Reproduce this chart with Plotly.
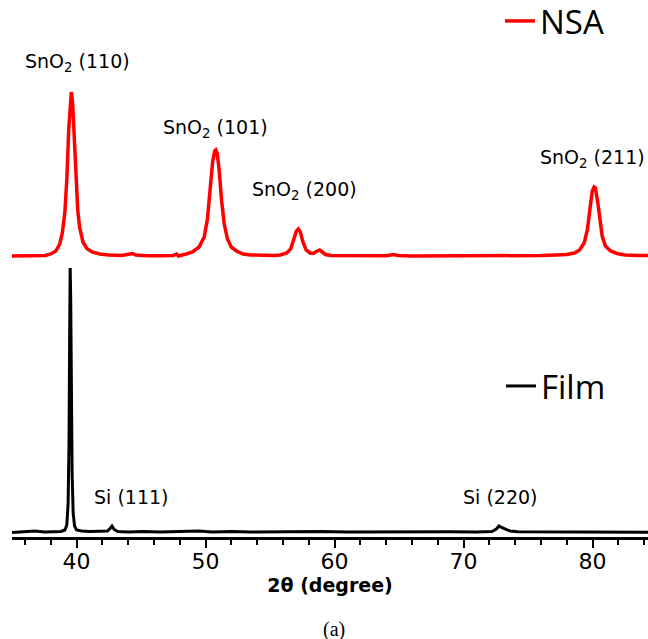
import plotly.graph_objects as go

# XRD patterns: 2-theta (degree) vs intensity (a.u.)
nsa_2theta = [35.0, 36.0, 37.0, 37.6, 38.0, 38.4, 38.7, 38.9, 39.1, 39.25, 39.4, 39.52, 39.6, 39.7,
              39.82, 39.95, 40.1, 40.25, 40.5, 40.8, 41.2, 41.8, 42.5, 43.5, 44.1, 44.35, 44.6, 45.5,
              46.5, 47.5, 47.75, 47.9, 48.5, 49.0, 49.5, 49.9, 50.15, 50.35, 50.55, 50.72, 50.8, 50.9,
              51.05, 51.25, 51.45, 51.7, 52.0, 52.4, 52.9, 53.5, 54.5, 55.3, 55.8, 56.3, 56.6, 56.85,
              57.05, 57.2, 57.35, 57.55, 57.8, 58.1, 58.35, 58.6, 58.85, 59.05, 59.3, 59.7, 61.0, 62.5,
              64.0, 64.6, 64.9, 66.0, 68.0, 70.0, 72.0, 74.0, 76.0, 77.2, 78.0, 78.6, 79.0, 79.35,
              79.6, 79.8, 79.98, 80.12, 80.22, 80.38, 80.55, 80.75, 81.0, 81.4, 81.9, 82.5, 83.5, 84.3]
nsa_intensity = [1.0, 1.2, 1.0, 1.5, 3, 6, 13, 24, 45, 78, 128, 160, 165, 154,
                 115, 75, 46, 29, 15, 8.5, 5, 3, 2, 1.5, 2.5, 3.5, 2, 1.2,
                 1.2, 1.5, 3, 1.0, 3, 5, 10, 20, 38, 64, 95, 106, 107, 104,
                 88, 56, 33, 18, 10, 6, 3, 2, 1.5, 1.5, 2, 4, 8, 17,
                 26, 28, 25, 15, 7, 4, 3.5, 5.5, 7, 5, 2.5, 1.5, 1.2, 1.0,
                 1.2, 2.5, 1.5, 1.0, 1.0, 1.2, 1.0, 1.2, 1.5, 2, 2.5, 4, 7, 14,
                 27, 48, 66, 70, 69, 57, 37, 21, 11, 6, 3.5, 2, 1.5, 1.5]

film_2theta = [35.0, 35.8, 36.8, 37.5, 38.3, 38.8, 39.1, 39.25, 39.35, 39.42, 39.47, 39.51, 39.55,
               39.6, 39.66, 39.74, 39.85, 40.0, 40.4, 41.0, 41.8, 42.4, 42.6, 42.75, 42.92, 43.2,
               44.0, 45.2, 46.5, 48.0, 49.5, 50.5, 52.0, 53.5, 55.0, 57.0, 59.0, 61.0, 63.0, 65.0,
               67.0, 69.0, 71.0, 72.2, 72.55, 72.75, 72.95, 73.25, 73.6, 74.2, 76.0, 78.0, 80.0,
               82.0, 84.3]
film_intensity = [0.5, 1.0, 2.0, 1.0, 1.5, 1.5, 3, 8, 30, 90, 200, 265, 235,
                  150, 60, 20, 7, 3, 2, 1.5, 1.5, 2, 4.5, 7, 3.5, 1.5,
                  1.0, 1.5, 1.0, 1.2, 2.0, 1.0, 1.5, 1.0, 1.2, 1.0, 1.5, 1.0, 1.2, 1.0,
                  1.0, 1.2, 1.0, 1.5, 4, 7, 5.5, 3.5, 2, 1.2, 1.0, 0.8, 1.0,
                  0.8, 0.8]

# Reflection labels: text, 2-theta, height above its pattern's baseline
nsa_peak_labels = ["SnO<sub>2</sub> (110)", "SnO<sub>2</sub> (101)",
                   "SnO<sub>2</sub> (200)", "SnO<sub>2</sub> (211)"]
nsa_peak_x = [40.1, 50.78, 57.65, 80.0]
nsa_peak_y = [195, 129, 67, 99]
film_peak_labels = ["Si (111)", "Si (220)"]
film_peak_x = [44.2, 72.8]
film_peak_y = [36, 36]

NSA_OFFSET = 276  # vertical stacking of the NSA pattern above the film pattern

fig = go.Figure()
fig.add_trace(go.Scatter(
    x=film_2theta, y=film_intensity, mode="lines", name="Film",
    line=dict(color="black", width=3), legend="legend2"))
fig.add_trace(go.Scatter(
    x=nsa_2theta, y=[v + NSA_OFFSET for v in nsa_intensity], mode="lines", name="NSA",
    line=dict(color="#ff0000", width=3.5), legend="legend"))

label_font = dict(family="DejaVu Sans", size=19, color="black")
for t, x, y in zip(nsa_peak_labels, nsa_peak_x, nsa_peak_y):
    fig.add_annotation(x=x, y=y + NSA_OFFSET, text=t, showarrow=False,
                       xanchor="center", yanchor="middle", font=label_font)
for t, x, y in zip(film_peak_labels, film_peak_x, film_peak_y):
    fig.add_annotation(x=x, y=y, text=t, showarrow=False,
                       xanchor="center", yanchor="middle", font=label_font)

# Panel caption
fig.add_annotation(xref="paper", yref="paper", x=0.506, y=-0.173, text="(a)",
                   showarrow=False, xanchor="center", yanchor="middle",
                   font=dict(family="Liberation Serif", size=20, color="black"))

legend_common = dict(xref="container", yref="container", xanchor="left", yanchor="middle",
                     bgcolor="rgba(0,0,0,0)", borderwidth=0,
                     font=dict(family="Open Sans", size=33, color="black"),
                     itemwidth=30)

fig.update_layout(
    width=648, height=639,
    margin=dict(l=12, r=0, t=0, b=102, autoexpand=False),
    paper_bgcolor="white", plot_bgcolor="white",
    showlegend=True,
    legend=dict(x=500 / 648, y=1 - 21 / 639, **legend_common),
    legend2=dict(x=501 / 648, y=1 - 386 / 639, **legend_common),
    xaxis=dict(
        range=[35, 84.3], showgrid=False, zeroline=False,
        showline=True, linecolor="black", linewidth=3,
        ticks="outside", ticklen=8, tickwidth=1.5, tickcolor="black",
        tick0=0, dtick=10, ticklabelstandoff=-5,
        minor=dict(ticks="outside", ticklen=5, tickwidth=1.5, tickcolor="black",
                   tick0=0, dtick=2, showgrid=False),
        tickfont=dict(family="DejaVu Sans", size=22, color="black"),
        title=dict(text="2θ (degree)", standoff=0,
                   font=dict(family="DejaVu Sans", size=19, color="black", weight="bold")),
    ),
    yaxis=dict(range=[-4, 533], visible=False, showgrid=False, zeroline=False),
)

fig.write_html("out.html")
